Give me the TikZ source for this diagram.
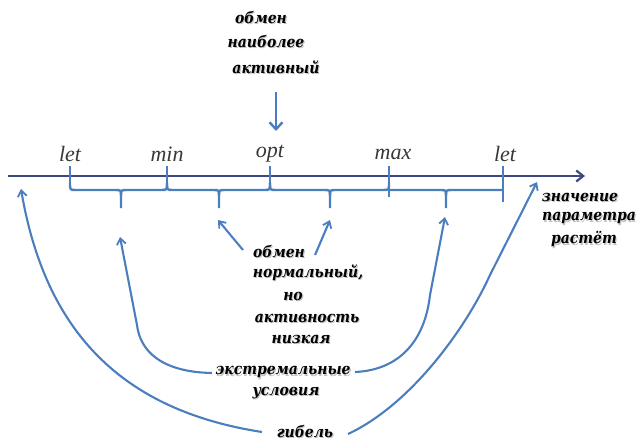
\documentclass[tikz,border=0pt]{standalone}
\usepackage{fontspec}
\setmainfont{Liberation Serif}
\newfontfamily\notefont{DejaVu Serif Condensed}
\usetikzlibrary{arrows.meta}
\definecolor{axisblue}{RGB}{62,72,128}
\definecolor{lineblue}{RGB}{74,126,190}
\definecolor{labelgray}{RGB}{55,55,55}
\definecolor{shade}{RGB}{195,195,195}
% text with a soft offset shade behind it
\newcommand{\shaded}[1]{\rlap{\kern1.1pt\raisebox{-1.1pt}{\textcolor{shade}{#1}}}#1}
\tikzset{
  axisline/.style={draw=axisblue, line width=2.6pt,
    -{Straight Barb[length=7pt,width=11pt,line width=2.2pt]}},
  tickline/.style={draw=lineblue, line width=2.4pt},
  braceline/.style={draw=lineblue, line width=2.4pt, line join=round},
  pointer/.style={draw=lineblue, line width=2.1pt,
    -{Straight Barb[length=6pt,width=9pt,line width=1.8pt]}},
  bigpointer/.style={draw=lineblue, line width=2.8pt,
    -{Straight Barb[length=7pt,width=13pt,line width=2.4pt]}},
  marklabel/.style={font=\fontsize{22}{22}\selectfont\itshape, text=labelgray, inner sep=0pt},
  note/.style={font=\notefont\fontsize{15.5}{15.5}\selectfont\bfseries\itshape, text=black, inner sep=0pt},
}
\begin{document}
\begin{tikzpicture}[x=1pt,y=-1pt]
\useasboundingbox (0,0) rectangle (639,442);

% parameter axis
\coordinate (axL) at (8,176);
\coordinate (axR) at (585,176);
\draw[axisline] (axL) -- (axR);

% tick marks on the axis
\draw[tickline] (70,166) -- (70,184);
\draw[tickline] (167,166) -- (167,186);
\draw[tickline] (270,166) -- (270,186);
\draw[tickline] (389,166) -- (389,197);
\draw[tickline] (503,166) -- (503,202);

% tick labels
\node[marklabel] (l1) at (70,154) {let};
\node[marklabel] (l2) at (167,154) {min};
\node[marklabel] (l3) at (270,154) {opt};
\node[marklabel] (l4) at (393,154) {max};
\node[marklabel] (l5) at (505,154) {let};

% braces under the axis: zones between the ticks
\newcommand{\zonebrace}[3]{%
  \draw[braceline] (#1,183) .. controls (#1,190) .. (#1+6,190) -- (#2-6,190)
    .. controls (#2,190) .. (#2,196) -- (#2,208);
  \draw[braceline] (#2,196) .. controls (#2,190) .. (#2+6,190) -- (#3-6,190)
    .. controls (#3,190) .. (#3,183);}
\zonebrace{70}{121}{167}
\zonebrace{167}{219}{270}
\zonebrace{270}{330}{389}
\draw[braceline] (389,190) -- (440,190) .. controls (446,190) .. (446,196) -- (446,208);
\draw[braceline] (446,196) .. controls (446,190) .. (452,190) -- (503,190);

% arrow targets below the braces and on the axis
\coordinate (c1) at (120,237);
\coordinate (c2) at (218,220);
\coordinate (c3) at (330,220);
\coordinate (c4) at (445,217);
\coordinate (e1) at (21,189);
\coordinate (e2) at (537,182);

% top note
\node[note] (t1) at (261,18) {\shaded{обмен}};
\node[note] (t2) at (266,42) {\shaded{наиболее}};
\node[note] (t3) at (276,68) {\shaded{активный}};
\coordinate (topS) at (276,92);
\coordinate (topE) at (276,131);
\draw[bigpointer] (topS) -- (topE);

% axis caption
\node[note] (r1) at (580,198) {\shaded{значение}};
\node[note] (r2) at (589,219) {\shaded{параметра}};
\node[note] (r3) at (584,240) {\shaded{растёт}};

% middle note
\node[note] (m1) at (279,252) {\shaded{обмен}};
\node[note] (m2) at (308,273) {\shaded{нормальный,}};
\node[note] (m3) at (293,297) {\shaded{но}};
\node[note] (m4) at (307,319) {\shaded{активность}};
\node[note] (m5) at (301,340) {\shaded{низкая}};
\coordinate (m1L) at (243,250);
\coordinate (m1R) at (315,255);
\draw[pointer] (m1L) -- (c2);
\draw[pointer] (m1R) -- (c3);

% extreme conditions
\node[note] (x1) at (283,373) {\shaded{экстремальные}};
\node[note] (x2) at (286,394) {\shaded{условия}};
\coordinate (x1L) at (212,373);
\coordinate (x1R) at (355,372);
\draw[pointer] (x1L) .. controls (160,372) and (140,350) .. (137,325) -- (c1);
\draw[pointer] (x1R) .. controls (400,370) and (425,340) .. (430,295) -- (c4);

% death
\node[note] (d1) at (305,432) {\shaded{гибель}};
\coordinate (d1L) at (262,432);
\coordinate (d1R) at (348,434);
\draw[pointer] (d1L) .. controls (120,410) and (45,330) .. (e1);
\draw[pointer] (d1R) .. controls (410,405) and (465,330) .. (490,275) -- (e2);
\end{tikzpicture}
\end{document}
